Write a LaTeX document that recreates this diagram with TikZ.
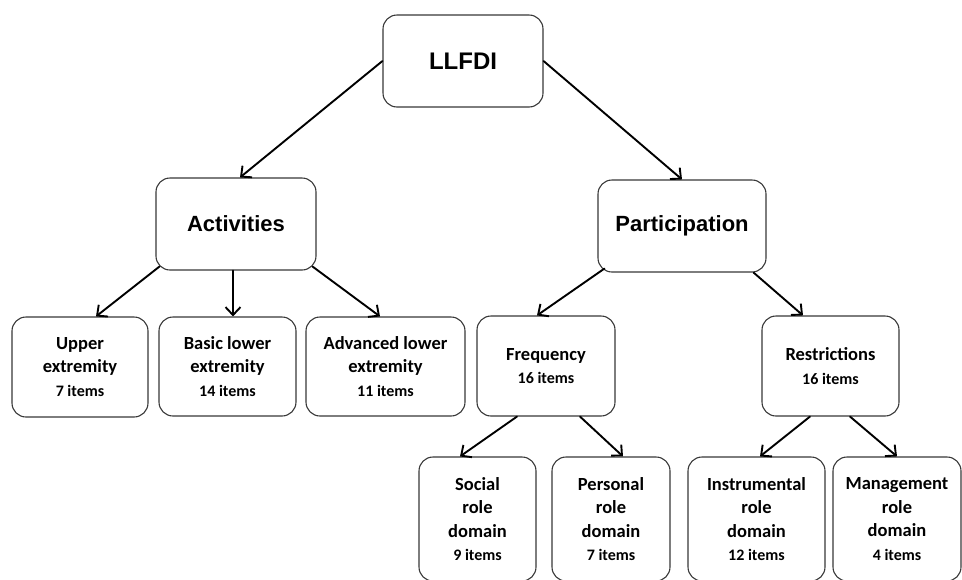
\documentclass[tikz,border=0pt]{standalone}
\usepackage{fontspec}
\usetikzlibrary{arrows.meta,calc,positioning}
\newfontfamily\headfont{Liberation Sans}
\newfontfamily\itemfont{Carlito}
\tikzset{
  box/.style={draw=black!78,line width=1.1pt,rounded corners=14pt,inner sep=0pt,align=center},
  headbox/.style={box,font=\headfont\bfseries\fontsize{22}{26}\selectfont},
  subbox/.style={box,font=\itemfont\bfseries\fontsize{18.5}{23.5}\selectfont},
  link/.style={-{Straight Barb[length=8pt,width=15pt]},line width=1.9pt,line cap=round}
}
\newcommand{\cnt}[1]{{\fontsize{16}{22}\selectfont #1}}
\begin{document}
\begin{tikzpicture}[x=1pt,y=-1pt]
\useasboundingbox (0,0) rectangle (962,579);
% top levels
\node[headbox,minimum width=160,minimum height=92,font=\headfont\bfseries\fontsize{24}{28}\selectfont] (llfdi) at (463,61) {LLFDI};
\node[headbox,minimum width=160,minimum height=92] (act) at (236,224) {Activities};
\node[headbox,minimum width=168,minimum height=92] (part) at (682,226) {Participation};
% second level
\node[subbox,minimum width=136,minimum height=100] (upper) at (80,367) {Upper\\extremity\\\cnt{7 items}};
\node[subbox,minimum width=137,minimum height=99] (basic) at (227.5,366.5) {Basic lower\\extremity\\\cnt{14 items}};
\node[subbox,minimum width=159,minimum height=99] (adv) at (385.5,366.5) {Advanced lower\\extremity\\\cnt{11 items}};
\node[subbox,minimum width=138,minimum height=100] (freq) at (546,366) {Frequency\\\cnt{16 items}};
\node[subbox,minimum width=137,minimum height=100] (restr) at (830.5,366) {Restrictions\\\cnt{16 items}};
% domains
\node[subbox,minimum width=117,minimum height=124] (social) at (477.5,519) {Social\\role\\domain\\\cnt{9 items}};
\node[subbox,minimum width=118,minimum height=124] (personal) at (611,519) {Personal\\role\\domain\\\cnt{7 items}};
\node[subbox,minimum width=137,minimum height=124] (instr) at (756.5,519) {Instrumental\\role\\domain\\\cnt{12 items}};
\node[subbox,minimum width=128,minimum height=124] (mgmt) at (897,519) {Management\\role\\domain\\\cnt{4 items}};
% arrows
\draw[link] (llfdi.west) -- ([xshift=4]act.north);
\draw[link] (llfdi.east) -- (part.north);
\draw[link] ([shift={(4,-4)}]act.south west) -- ([xshift=16]upper.north);
\draw[link] ([xshift=-3]act.south) -- ([xshift=-3]act.south |- basic.north);
\draw[link] ([shift={(-4,-4)}]act.south east) -- ([xshift=-5.5]adv.north);
\draw[link] ([shift={(7,-4)}]part.south west) -- ([xshift=-9]freq.north);
\draw[link] ([xshift=-13]part.south east) -- ([xshift=-27.5]restr.north);
\draw[link] ([xshift=-29]freq.south) -- ([xshift=-17.5]social.north);
\draw[link] ([xshift=34]freq.south) -- ([xshift=12]personal.north);
\draw[link] ([xshift=-20.5]restr.south) -- ([xshift=3.5]instr.north);
\draw[link] ([xshift=19.5]restr.south) -- (mgmt.north);
\end{tikzpicture}
\end{document}
